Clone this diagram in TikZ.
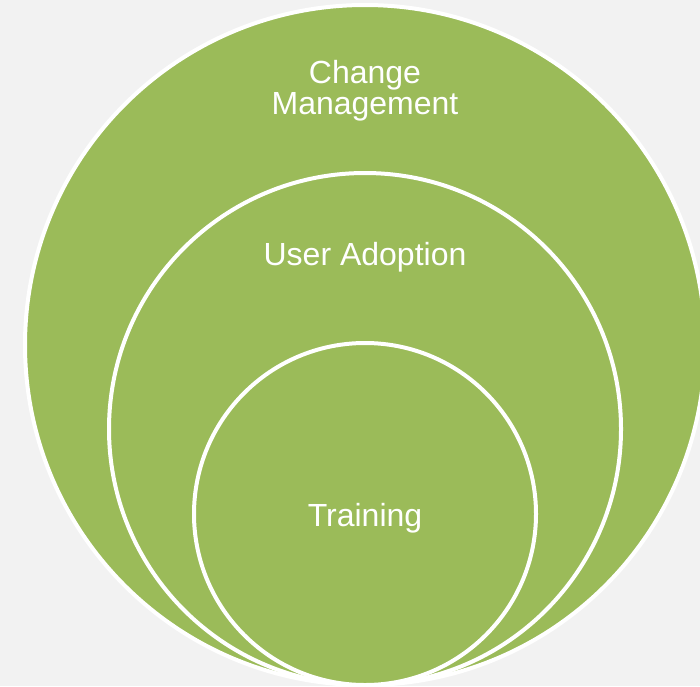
\documentclass[tikz,border=0pt]{standalone}
\usepackage{fontspec}
\setmainfont{Liberation Sans}
\definecolor{leafgreen}{HTML}{9BBB59}
\definecolor{paper}{HTML}{F2F2F2}

\begin{document}
\begin{tikzpicture}[x=1pt,y=-1pt,
        ring/.style={circle,fill=leafgreen,draw=white,line width=4pt,inner sep=0pt},
        ringtext/.style={text=white,font=\fontsize{32}{31.3}\selectfont,align=center,inner sep=0pt}]
        % page and background
        \fill[paper] (0,0) rectangle (700,686);
        \useasboundingbox (0,0) rectangle (700,686);
        \clip (0,0) rectangle (700,686);

        % the nested circles, all touching at the bottom
        \foreach \name/\cy/\r in {outer/345/340, middle/429/256, inner/514/171}
                \node[ring,minimum size={2*\r pt}] (\name) at (365,\cy) {};

        % the texts
        \node[ringtext] (changetext) at (365,91) {Change\\Management};
        \node[ringtext,anchor=base] (adoptiontext) at (365,265) {User Adoption};
        \node[ringtext,anchor=base] (trainingtext) at (365,526) {Training};
\end{tikzpicture}
\end{document}
